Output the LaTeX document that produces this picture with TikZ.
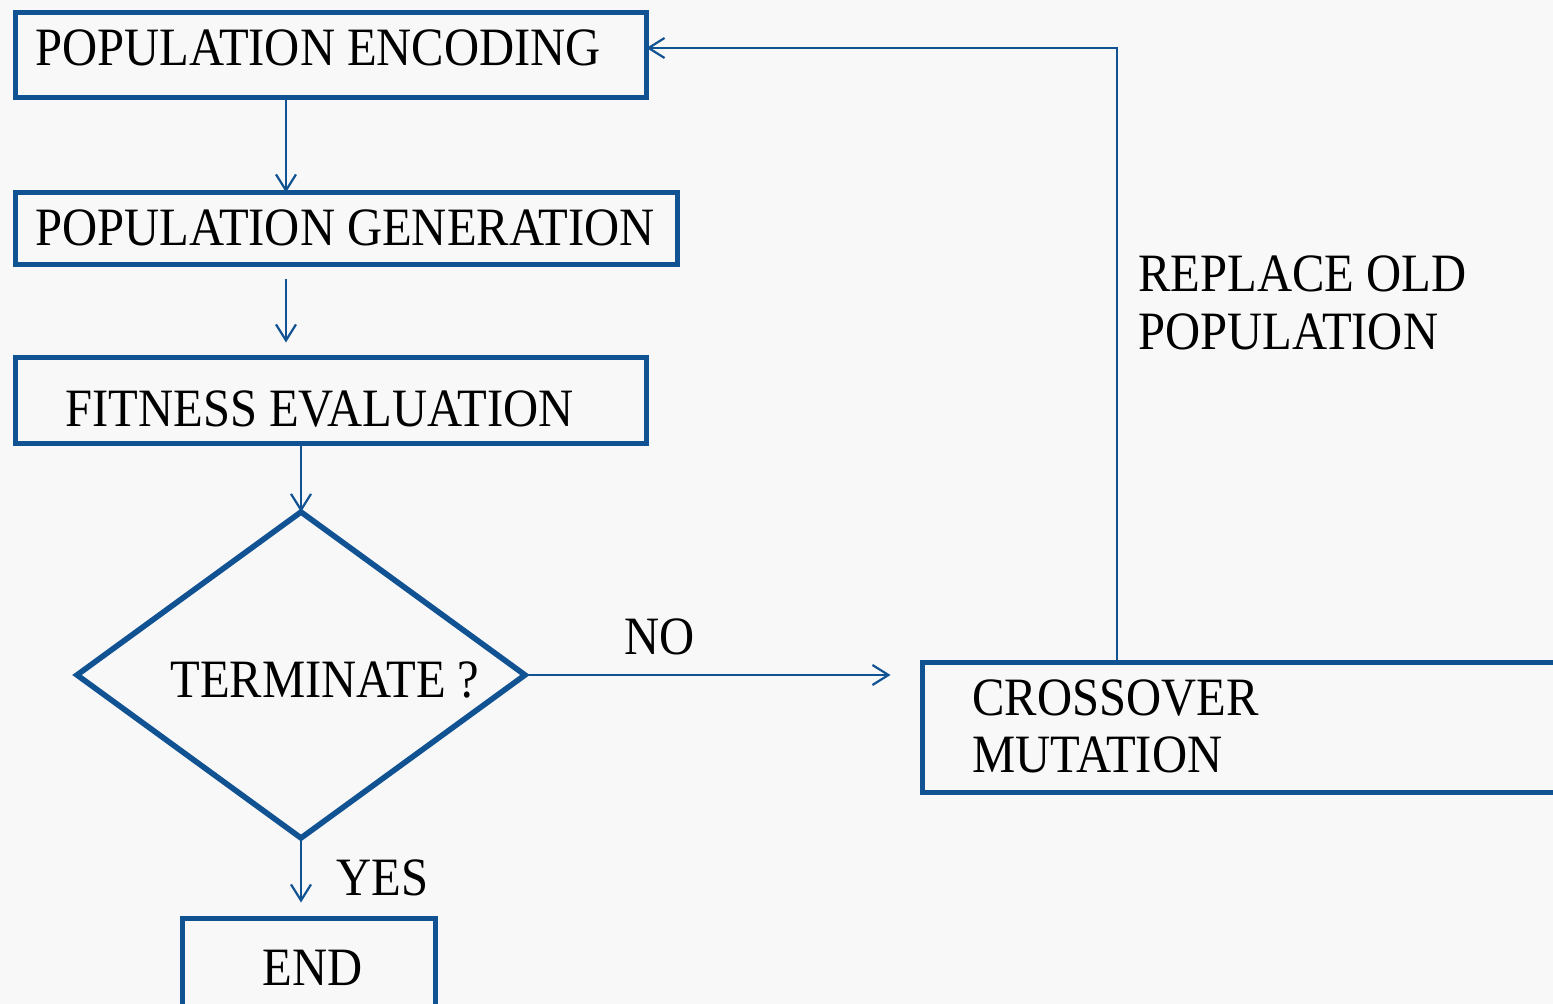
\documentclass[tikz,border=0pt]{standalone}
\usepackage{fontspec}
\setmainfont[FakeStretch=0.9]{Liberation Serif}
\usetikzlibrary{arrows.meta,fit,shapes.geometric}
\definecolor{flowblue}{RGB}{17,82,147}
\definecolor{paper}{RGB}{248,248,248}
\begin{document}
\begin{tikzpicture}[x=0.5pt,y=-0.5pt,
  box/.style={draw=flowblue, line width=2.8pt, inner sep=0pt, outer sep=0pt},
  caption/.style={font=\fontsize{27}{32}\selectfont, text=black, inner sep=0pt, anchor=base west},
  flow/.style={draw=flowblue, line width=1.1pt, -{Straight Barb[length=8pt,width=10pt,line width=1.1pt]}}]
  \useasboundingbox (0,0) rectangle (1553,1004);
  \fill[paper] (0,0) rectangle (1553,1004);
  \clip (0,0) rectangle (1553,1004);

  % process boxes
  \node[box, fit={(15.5,12.5) (646.5,97.5)}] (enc) {};
  \node[box, fit={(15.5,192.5) (677.5,264.5)}] (gen) {};
  \node[box, fit={(15.5,357.5) (646.5,443.5)}] (fit) {};
  \node[box, diamond, minimum width=224pt, minimum height=163pt] (dec) at (301,675) {};
  \node[box, fit={(922.5,662.5) (1620,792.5)}] (cross) {};
  \node[box, fit={(182.5,918.5) (435.5,1060)}] (end) {};

  % texts
  \node[caption] (tenc) at (35,66) {POPULATION ENCODING};
  \node[caption] (tgen) at (35,246) {POPULATION GENERATION};
  \node[caption] (tfit) at (65,427) {FITNESS EVALUATION};
  \node[caption] (tdec) at (170,698) {TERMINATE ?};
  \node[caption] (tcross) at (972,716) {CROSSOVER};
  \node[caption] (tmut) at (972,773) {MUTATION};
  \node[caption] (trep) at (1138,292) {REPLACE OLD};
  \node[caption] (tpop) at (1138,350) {POPULATION};
  \node[caption] (tno) at (624,655) {NO};
  \node[caption] (tyes) at (336,895) {YES};
  \node[caption] (tend) at (262,985) {END};

  % connectors
  \draw[flow] (enc.south -| 286,0) -- (gen.north -| 286,0);
  \draw[flow, shorten <=7.5pt, shorten >=7.5pt] (gen.south -| 286,0) -- (fit.north -| 286,0);
  \draw[flow] (fit.south -| dec.north) -- (dec.north);
  \draw[flow, shorten >=16pt] (dec.east) -- (cross.west |- dec.east);
  \draw[flow, shorten >=8pt] (dec.south) -- (end.north -| dec.south);
  \coordinate (turn) at (1117,48);
  \draw[flow] (cross.north -| turn) -- (turn) -- (enc.east |- turn);
\end{tikzpicture}
\end{document}
